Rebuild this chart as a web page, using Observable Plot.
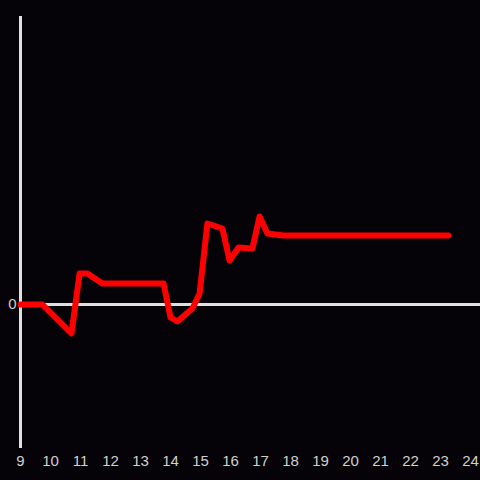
<!DOCTYPE html>
<html>
<head>
<meta charset="utf-8">
<script src="https://cdn.jsdelivr.net/npm/d3@7"></script>
<script src="https://cdn.jsdelivr.net/npm/@observablehq/plot@0.6"></script>
<style>
  html, body { margin: 0; padding: 0; background: #050307; }
  #chart svg { display: block; }
</style>
</head>
<body>
<div id="chart"></div>
<script>
const hours = [9, 9.73, 10.7, 10.97, 11.23, 11.73, 13.77, 14.0, 14.23, 14.73, 14.97, 15.23, 15.73, 15.97, 16.27, 16.73, 16.97, 17.23, 17.77, 23.27];
const values = [0, 0, -29, 31, 31, 21, 21, -13, -17, -4, 11, 81, 76, 44, 57, 56, 88, 71, 69, 69];
const xTicks = [9, 10, 11, 12, 13, 14, 15, 16, 17, 18, 19, 20, 21, 22, 23, 24];
const yTicks = [0];

const data = hours.map((h, i) => ({x: h, y: values[i]}));

const chart = Plot.plot({
  width: 480,
  height: 480,
  marginLeft: 20,
  marginRight: 0,
  marginTop: 16,
  marginBottom: 32,
  style: {background: "#050307", color: "#d0d0d0", fontFamily: "Liberation Sans, Arial, sans-serif", fontSize: "15px"},
  x: {domain: [9, 9 + 460 / 30], label: null},
  y: {domain: [-144, 288], label: null},
  marks: [
    Plot.ruleY([0], {stroke: "#e0e0e0", strokeWidth: 3}),
    Plot.ruleX([9], {stroke: "#e0e0e0", strokeWidth: 3}),
    Plot.axisX({ticks: xTicks, tickSize: 0, tickPadding: 7, label: null, tickFormat: d => String(d), fill: "#d0d0d0", fontSize: 15}),
    Plot.axisY({ticks: yTicks, tickSize: 0, tickPadding: 4, label: null, tickFormat: d => String(d), fill: "#d0d0d0", fontSize: 15}),
    Plot.line(data, {x: "x", y: "y", stroke: "#ff0000", strokeWidth: 6})
  ]
});
document.getElementById("chart").appendChild(chart);
</script>
</body>
</html>
